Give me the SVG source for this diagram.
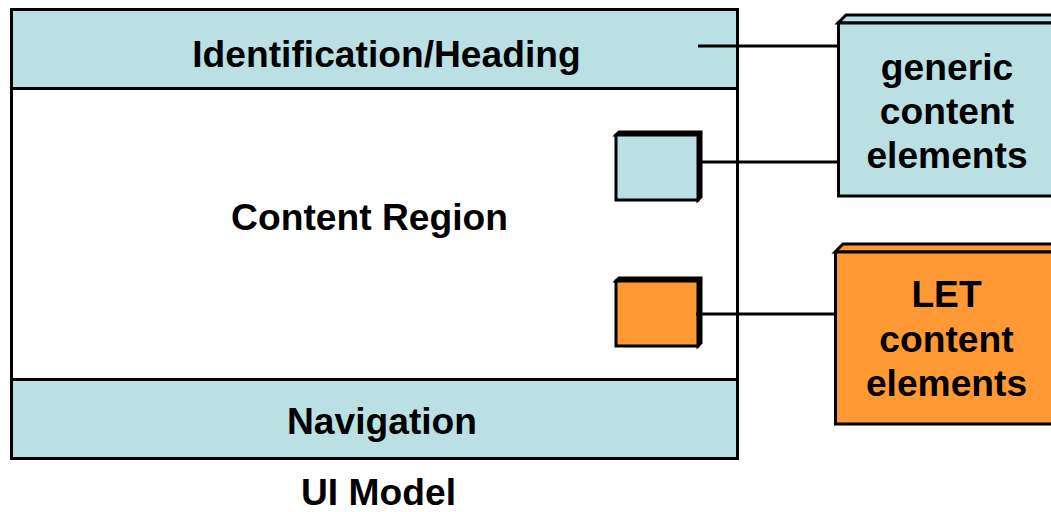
<svg xmlns="http://www.w3.org/2000/svg" width="1051" height="512" viewBox="0 0 1051 512">
<style>
.t{font-family:"Liberation Sans",Arial,sans-serif;font-weight:bold;font-size:37.2px;fill:#000;text-anchor:middle}
.cy{fill:#BAE0E3;stroke:#000;stroke-width:3}
.or{fill:#FF9933;stroke:#000;stroke-width:3}
.wh{fill:#fff;stroke:#000;stroke-width:3}
.ln{stroke:#000;stroke-width:3;fill:none}
</style>
<rect width="1051" height="512" fill="#fff"/>
<g id="ui-model">
<rect class="wh" x="11.5" y="9.5" width="726" height="449"/>
<text class="t" x="378.5" y="505">UI Model</text>
</g>
<g id="content-region">
<text class="t" x="369.5" y="230">Content Region</text>
</g>
<g id="heading">
<rect class="cy" x="11.5" y="9.5" width="726" height="79"/>
<text class="t" x="386.5" y="67">Identification/Heading</text>
</g>
<g id="navigation">
<rect class="cy" x="11.5" y="379.5" width="726" height="79"/>
<text class="t" x="382" y="434">Navigation</text>
</g>
<g id="generic-small">
<polygon class="cy" points="616,135 619,132 701,132 701,197 698,200 698,135"/>
<rect class="cy" x="616" y="135" width="82" height="65"/>
</g>
<g id="let-small">
<polygon class="or" points="616,281 619,278 701,278 701,343 698,346 698,281"/>
<rect class="or" x="616" y="281" width="82" height="65"/>
</g>
<g id="generic-box">
<polygon class="cy" points="838,23 846,15 1066,15 1058,23"/>
<rect class="cy" x="838.5" y="23" width="220" height="173"/>
<text class="t" x="947" y="80">generic</text>
<text class="t" x="947" y="124">content</text>
<text class="t" x="947" y="168">elements</text>
</g>
<g id="let-box">
<polygon class="or" points="835,252 843,244 1066,244 1058,252"/>
<rect class="or" x="835.5" y="252" width="223" height="172"/>
<text class="t" x="946.5" y="307">LET</text>
<text class="t" x="946.5" y="352">content</text>
<text class="t" x="946.5" y="396">elements</text>
</g>
<g id="connectors">
<line class="ln" x1="698" y1="46" x2="838" y2="46"/>
<line class="ln" x1="700" y1="162" x2="838" y2="162"/>
<line class="ln" x1="696" y1="314" x2="835" y2="314"/>
</g>
</svg>
